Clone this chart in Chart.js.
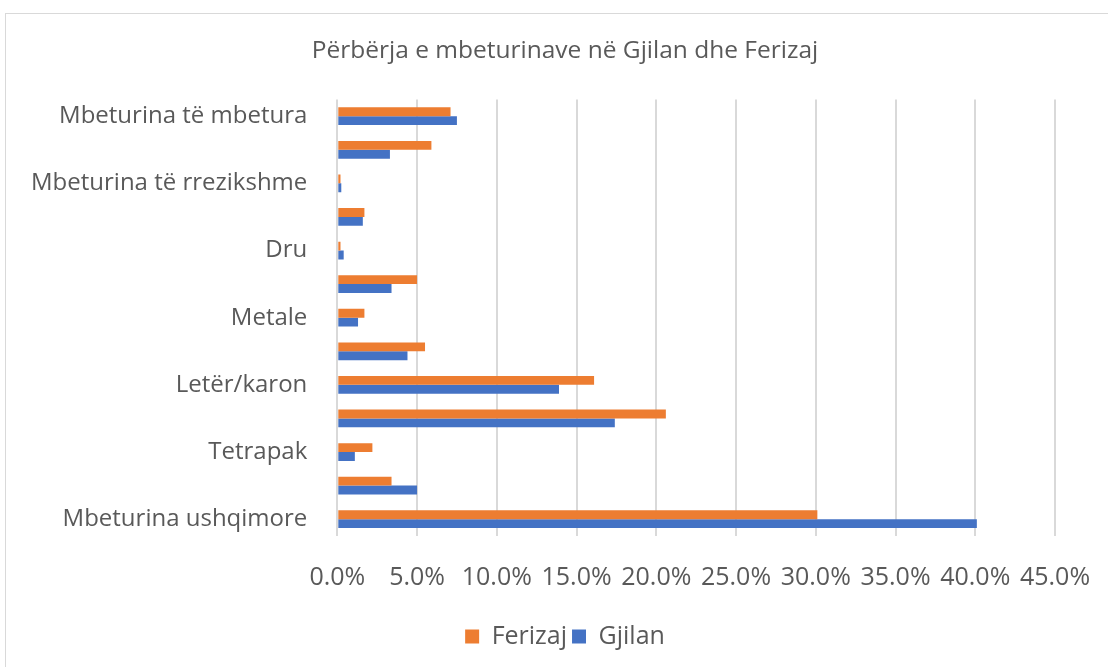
<!DOCTYPE html>
<html>
<head>
<meta charset="utf-8">
<script src="https://cdn.jsdelivr.net/npm/chart.js@4"></script>
<style>
  body { margin: 0; background: #fff; }
  #frame {
    position: absolute; left: 5px; top: 13px;
    width: 1110px; height: 660px;
    border: 1px solid #d9d9d9; box-sizing: border-box;
  }
  #wrap { position: absolute; left: 0; top: 0; width: 1108px; height: 667px; }
</style>
</head>
<body>
<div id="frame"></div>
<div id="wrap"><canvas id="chart"></canvas></div>
<script>
// categories, top to bottom (only every other one is labelled in the original)
const categories = [
  "Mbeturina të mbetura",
  "Mbeturina inerte",
  "Mbeturina të rrezikshme",
  "Tekstil",
  "Dru",
  "Qelq",
  "Metale",
  "Mbeturina të gjelbra",
  "Letër/karon",
  "Plastikë",
  "Tetrapak",
  "Pelena",
  "Mbeturina ushqimore",
];

// percent values
const ferizaj = [7.1, 5.9, 0.2, 1.7, 0.2, 5.0, 1.7, 5.5, 16.1, 20.6, 2.2, 3.4, 30.1];
const gjilan = [7.5, 3.3, 0.25, 1.6, 0.4, 3.4, 1.3, 4.4, 13.9, 17.4, 1.1, 5.0, 40.1];

const xMax = 45;
const xStep = 5;

const textColor = "#595959";
const fontFamily = "'Open Sans', sans-serif";

const ctx = document.getElementById("chart");

new Chart(ctx, {
  type: "bar",
  data: {
    labels: categories,
    datasets: [
      {
        label: "Ferizaj",
        data: ferizaj,
        backgroundColor: "#ED7D31",
        borderWidth: 0,
      },
      {
        label: "Gjilan",
        data: gjilan,
        backgroundColor: "#4472C4",
        borderWidth: 0,
      },
    ],
  },
  options: {
    indexAxis: "y",
    responsive: true,
    maintainAspectRatio: false,
    animation: false,
    datasets: {
      bar: {
        barPercentage: 1.0,
        categoryPercentage: 0.53,
      },
    },
    layout: {
      padding: { left: 22, right: 0, top: 20, bottom: 8 },
    },
    scales: {
      x: {
        min: 0,
        max: xMax,
        ticks: {
          stepSize: xStep,
          color: textColor,
          font: { family: fontFamily, size: 25, lineHeight: 1 },
          padding: 29,
          maxRotation: 0,
          minRotation: 0,
          callback: (v) => Number(v).toFixed(1) + "%",
        },
        afterFit: (scale) => {
          // last tick label hangs over, title/legend centre like the original
          scale.paddingRight = 53;
        },
        grid: {
          color: "#d9d9d9",
          lineWidth: 2,
          drawTicks: false,
        },
        border: { display: false },
      },
      y: {
        ticks: {
          autoSkip: false,
          color: textColor,
          font: { family: fontFamily, size: 24 },
          padding: 30,
          callback: function (v, i) {
            return i % 2 === 0 ? this.getLabelForValue(v) : "";
          },
        },
        afterFit: (scale) => {
          scale.width = scale.width - 21;
        },
        grid: { display: false, drawTicks: false },
        border: { display: false },
      },
    },
    plugins: {
      title: {
        display: true,
        text: "Përbërja e mbeturinave në Gjilan dhe Ferizaj",
        color: textColor,
        font: { family: fontFamily, size: 24.5, weight: "normal" },
        padding: { top: 16, bottom: 34 },
      },
      legend: {
        position: "bottom",
        labels: {
          color: textColor,
          font: { family: fontFamily, size: 25 },
          boxWidth: 14,
          boxHeight: 14,
          padding: 5,
        },
      },
      tooltip: { enabled: false },
    },
  },
});
</script>
</body>
</html>
